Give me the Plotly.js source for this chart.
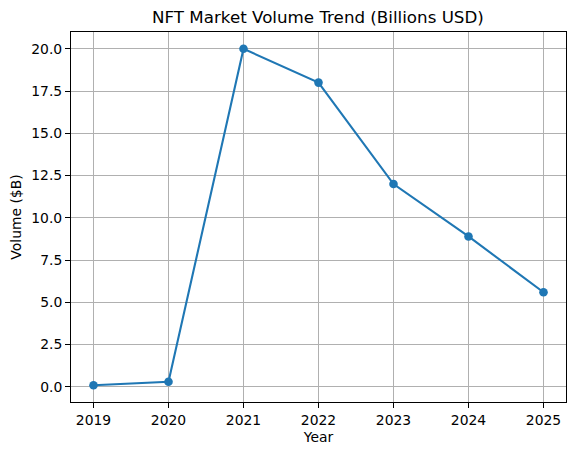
<!DOCTYPE html>
<html><head><meta charset="utf-8">
<script src="https://cdn.plot.ly/plotly-3.0.1.min.js"></script>
<style>html,body{margin:0;padding:0;background:#fff}</style>
</head><body>
<div id="chart" style="width:576px;height:455px"></div>
<script>
const years = [2019, 2020, 2021, 2022, 2023, 2024, 2025];
const volume = [0.1, 0.3, 20.0, 18.0, 12.0, 8.9, 5.6];
const yTicks = [0, 2.5, 5, 7.5, 10, 12.5, 15, 17.5, 20];
const yTickText = ['0.0','2.5','5.0','7.5','10.0','12.5','15.0','17.5','20.0'];

const font = {family: 'DejaVu Sans, sans-serif', color: '#000', size: 13.9};
const axisCommon = {
  showline: true, linecolor: '#000', linewidth: 1.1, mirror: true,
  showgrid: true, gridcolor: '#b0b0b0', gridwidth: 1.1,
  ticks: 'outside', ticklen: 4.9, tickwidth: 1.1, tickcolor: '#000',
  zeroline: false, tickfont: font
};
Plotly.newPlot('chart', [{
  x: years, y: volume, type: 'scatter', mode: 'lines+markers',
  line: {color: '#1f77b4', width: 2.1},
  marker: {color: '#1f77b4', size: 8.6}
}], {
  width: 576, height: 455,
  margin: {l: 71, r: 10, t: 32, b: 53},
  paper_bgcolor: '#fff', plot_bgcolor: '#fff',
  font: font,
  showlegend: false,
  title: {text: 'NFT Market Volume Trend (Billions USD)', font: {family: font.family, size: 16.7, color: '#000'},
          x: 0.552, xanchor: 'center', y: 0.962, yanchor: 'middle'},
  xaxis: Object.assign({}, axisCommon, {
    range: [2018.7, 2025.3], tickvals: years, ticktext: years.map(String),
    title: {text: 'Year', font: font, standoff: 5}
  }),
  yaxis: Object.assign({}, axisCommon, {
    range: [-0.895, 20.995], tickvals: yTicks, ticktext: yTickText,
    title: {text: 'Volume ($B)', font: font, standoff: 6}
  })
}, {displayModeBar: false, staticPlot: true});
</script>
</body></html>
